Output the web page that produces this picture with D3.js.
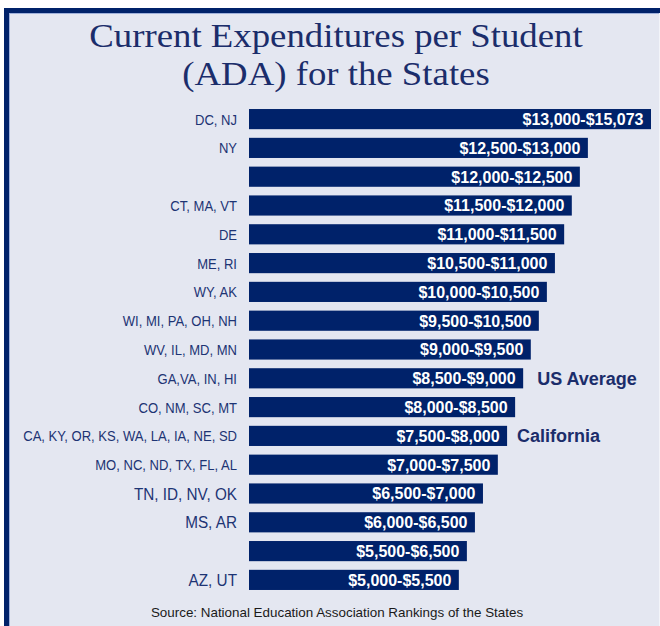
<!DOCTYPE html>
<html>
<head>
<meta charset="utf-8">
<script src="https://cdn.jsdelivr.net/npm/d3@7"></script>
<style>
  body { margin: 0; background: #fff; }
  svg { display: block; }
</style>
</head>
<body>
<div id="chart"></div>
<script>
// state groups, top to bottom
const stateLabels = [
    'DC, NJ', 'NY', '', 'CT, MA, VT', 'DE', 'ME, RI', 'WY, AK',
    'WI, MI, PA, OH, NH', 'WV, IL, MD, MN', 'GA,VA, IN, HI', 'CO, NM, SC, MT',
    'CA, KY, OR, KS, WA, LA, IA, NE, SD', 'MO, NC, ND, TX, FL, AL',
    'TN, ID, NV, OK', 'MS, AR', '', 'AZ, UT'
];

const rangeLabels = [
    '$13,000-$15,073', '$12,500-$13,000', '$12,000-$12,500', '$11,500-$12,000',
    '$11,000-$11,500', '$10,500-$11,000', '$10,000-$10,500', '$9,500-$10,500',
    '$9,000-$9,500', '$8,500-$9,000', '$8,000-$8,500', '$7,500-$8,000',
    '$7,000-$7,500', '$6,500-$7,000', '$6,000-$6,500', '$5,500-$6,500',
    '$5,000-$5,500'
];

// relative bar length (longest bar = 100)
const barLength = [100, 84.3, 82.3, 80.3, 78.4, 76.1, 74.1, 72.1, 70.1, 68.2, 66.2, 64.2, 61.9, 58.2, 56.2, 54.2, 52.2];

const annotations = [
    { row: 9, text: 'US Average' },
    { row: 11, text: 'California' }
];

const width = 660, height = 626;
const navy = '#00226a';
const bg = '#e4e7f1';

const svg = d3.select('#chart')
    .append('svg')
    .attr('width', width)
    .attr('height', height);

// frame
svg.append('rect').attr('x', 4).attr('y', 8).attr('width', width - 4).attr('height', height - 8).attr('fill', bg);
svg.append('rect').attr('x', 4).attr('y', 8).attr('width', width - 4).attr('height', 5).attr('fill', navy);
svg.append('rect').attr('x', 4).attr('y', 8).attr('width', 5).attr('height', height - 8).attr('fill', navy);
svg.append('line').attr('x1', 9.5).attr('x2', 9.5).attr('y1', 13).attr('y2', height).attr('stroke', '#9fb1db').attr('stroke-width', 1);
svg.append('line').attr('x1', 9).attr('x2', width).attr('y1', 13.5).attr('y2', 13.5).attr('stroke', '#9fb1db').attr('stroke-width', 1);
svg.append('line').attr('x1', 659.5).attr('x2', 659.5).attr('y1', 13).attr('y2', height).attr('stroke', '#f2f4f9').attr('stroke-width', 1);

// title (widened serif to get the look of the original)
const title = svg.append('g')
    .attr('transform', 'translate(336,0) scale(1.115,1)')
    .append('text')
    .attr('text-anchor', 'middle')
    .style('font-family', '"Liberation Serif", "DejaVu Serif", serif')
    .style('font-size', '33px')
    .attr('fill', '#1b2d6b');
title.append('tspan').attr('x', 0).attr('y', 47.5).text('Current Expenditures per Student');
title.append('tspan').attr('x', 0).attr('y', 85).text('(ADA) for the States');

const barLeft = 249;
const rows = d3.range(stateLabels.length);

const y = d3.scaleBand()
    .domain(rows)
    .range([104.7, 594.3])
    .paddingInner(0.3)
    .paddingOuter(0.15);

const x = d3.scaleLinear()
    .domain([0, 100])
    .range([0, 402]);

const g = svg.append('g').attr('transform', `translate(${barLeft},0)`);

g.selectAll('.bar')
    .data(rows)
    .enter().append('rect')
    .attr('class', 'bar')
    .attr('x', 0)
    .attr('y', i => y(i))
    .attr('width', i => x(barLength[i]))
    .attr('height', y.bandwidth())
    .attr('fill', navy);

// range text inside bars
g.selectAll('.range')
    .data(rows)
    .enter().append('text')
    .attr('class', 'range')
    .attr('x', i => x(barLength[i]) - 7.5)
    .attr('y', i => y(i) + y.bandwidth() / 2 + 5.8)
    .attr('text-anchor', 'end')
    .style('font-family', '"Liberation Sans", Arial, sans-serif')
    .style('font-weight', 'bold')
    .style('font-size', '16px')
    .attr('fill', '#fff')
    .text(i => rangeLabels[i]);

// state labels, a bit condensed
const bigRows = [13, 14, 16];
svg.selectAll('.state')
    .data(rows.filter(i => stateLabels[i] !== ''))
    .enter().append('text')
    .attr('class', 'state')
    .attr('transform', i => {
        const big = bigRows.includes(i);
        return `translate(237,${y(i) + y.bandwidth() / 2 + (big ? 6 : 5.5)}) scale(${big ? 0.9 : 0.87},1)`;
    })
    .attr('text-anchor', 'end')
    .style('font-family', '"Liberation Sans", Arial, sans-serif')
    .style('font-size', i => bigRows.includes(i) ? '17px' : '15px')
    .attr('fill', '#1d3474')
    .text(i => stateLabels[i]);

// annotations
g.selectAll('.note')
    .data(annotations)
    .enter().append('text')
    .attr('class', 'note')
    .attr('x', d => x(barLength[d.row]) + (d.row === 9 ? 14 : 10))
    .attr('y', d => y(d.row) + y.bandwidth() / 2 + 6.5)
    .style('font-family', '"Liberation Sans", Arial, sans-serif')
    .style('font-weight', 'bold')
    .style('font-size', '18px')
    .attr('fill', '#1b2d6b')
    .text(d => d.text);

// source
svg.append('text')
    .attr('x', 337)
    .attr('y', 617)
    .attr('text-anchor', 'middle')
    .style('font-family', '"Liberation Sans", Arial, sans-serif')
    .style('font-size', '13.4px')
    .attr('fill', '#1a1a1a')
    .text('Source: National Education Association Rankings of the States');
</script>
</body>
</html>
